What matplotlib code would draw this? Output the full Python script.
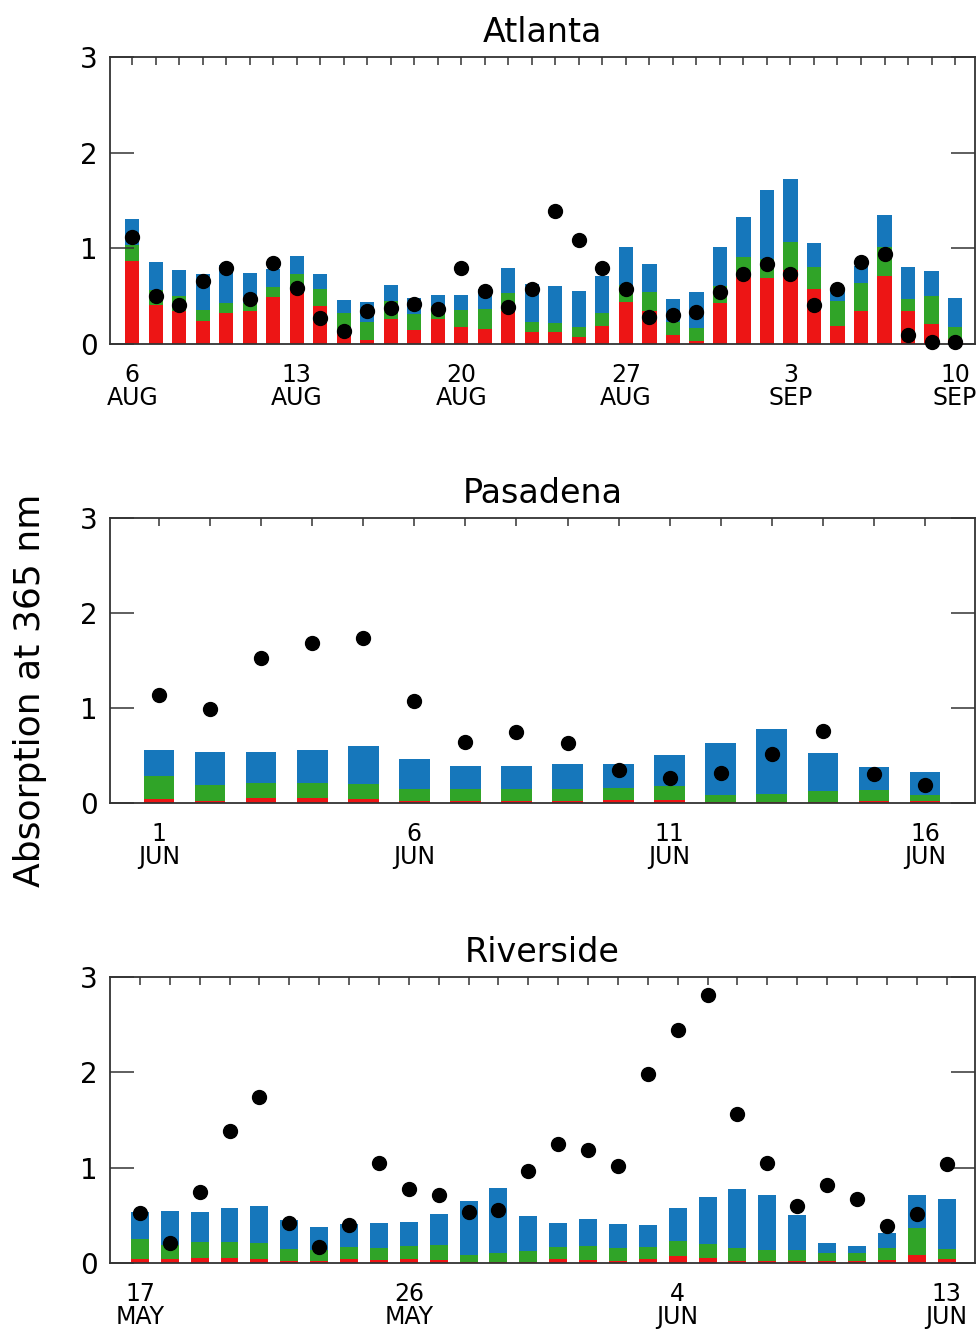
import matplotlib
matplotlib.use("Agg")
import matplotlib.pyplot as plt
import numpy as np

# --- data ---
# Atlanta, 6 Aug .. 10 Sep (36 days)
atl_red = [0.87, 0.41, 0.34, 0.24, 0.32, 0.35, 0.49, 0.56, 0.40, 0.13, 0.04, 0.26,
           0.15, 0.26, 0.18, 0.16, 0.34, 0.13, 0.13, 0.07, 0.19, 0.44, 0.34, 0.09,
           0.03, 0.43, 0.70, 0.69, 0.77, 0.58, 0.19, 0.34, 0.71, 0.34, 0.21, 0.05]
atl_green = [0.16, 0.15, 0.16, 0.12, 0.11, 0.08, 0.11, 0.17, 0.18, 0.19, 0.19, 0.19,
             0.16, 0.14, 0.18, 0.21, 0.19, 0.10, 0.09, 0.11, 0.13, 0.18, 0.20, 0.14,
             0.14, 0.18, 0.21, 0.20, 0.30, 0.22, 0.26, 0.30, 0.30, 0.13, 0.29, 0.13]
atl_blue = [0.28, 0.30, 0.27, 0.37, 0.40, 0.31, 0.18, 0.19, 0.15, 0.14, 0.21, 0.17,
            0.17, 0.11, 0.15, 0.20, 0.26, 0.40, 0.39, 0.37, 0.39, 0.39, 0.30, 0.24,
            0.37, 0.40, 0.42, 0.72, 0.65, 0.26, 0.10, 0.18, 0.34, 0.33, 0.26, 0.30]
atl_dots = [1.12, 0.50, 0.41, 0.66, 0.79, 0.47, 0.85, 0.59, 0.27, 0.14, 0.35, 0.38,
            0.42, 0.37, 0.79, 0.55, 0.39, 0.58, 1.39, 1.09, 0.79, 0.58, 0.28, 0.30,
            0.33, 0.54, 0.73, 0.84, 0.73, 0.41, 0.57, 0.86, 0.94, 0.09, 0.02, 0.02]
atl_ticks = [0, 7, 14, 21, 28, 35]
atl_labels = ["6\nAUG", "13\nAUG", "20\nAUG", "27\nAUG", "3\nSEP", "10\nSEP"]

# Pasadena, 1 Jun .. 16 Jun
pas_red = [0.04, 0.02, 0.05, 0.05, 0.04, 0.02, 0.02, 0.02, 0.02, 0.03, 0.03, 0.01,
           0.01, 0.01, 0.02, 0.02]
pas_green = [0.24, 0.17, 0.16, 0.16, 0.16, 0.13, 0.13, 0.13, 0.13, 0.13, 0.15, 0.07,
             0.08, 0.12, 0.12, 0.06]
pas_blue = [0.28, 0.35, 0.33, 0.35, 0.40, 0.31, 0.24, 0.24, 0.26, 0.25, 0.33, 0.55,
            0.69, 0.40, 0.24, 0.25]
pas_dots = [1.14, 0.99, 1.53, 1.68, 1.74, 1.07, 0.64, 0.75, 0.63, 0.35, 0.26, 0.32,
            0.52, 0.76, 0.31, 0.19]
pas_ticks = [0, 5, 10, 15]
pas_labels = ["1\nJUN", "6\nJUN", "11\nJUN", "16\nJUN"]

# Riverside, 17 May .. 13 Jun
riv_red = [0.04, 0.04, 0.05, 0.05, 0.04, 0.02, 0.02, 0.04, 0.03, 0.04, 0.03, 0.01,
           0.01, 0.01, 0.04, 0.03, 0.02, 0.04, 0.07, 0.05, 0.02, 0.02, 0.02, 0.02,
           0.02, 0.03, 0.08, 0.04]
riv_green = [0.21, 0.15, 0.17, 0.17, 0.17, 0.13, 0.12, 0.13, 0.13, 0.14, 0.16, 0.07,
             0.09, 0.12, 0.13, 0.15, 0.14, 0.13, 0.16, 0.15, 0.14, 0.12, 0.12, 0.09,
             0.09, 0.13, 0.29, 0.11]
riv_blue = [0.28, 0.36, 0.32, 0.36, 0.39, 0.30, 0.24, 0.24, 0.26, 0.25, 0.32, 0.57,
            0.69, 0.36, 0.25, 0.28, 0.25, 0.23, 0.35, 0.49, 0.62, 0.57, 0.36, 0.10,
            0.07, 0.15, 0.34, 0.52]
riv_dots = [0.52, 0.21, 0.74, 1.38, 1.74, 0.42, 0.17, 0.40, 1.05, 0.78, 0.71, 0.54,
            0.56, 0.96, 1.25, 1.19, 1.02, 1.98, 2.44, 2.81, 1.56, 1.05, 0.60, 0.82,
            0.67, 0.39, 0.51, 1.04]
riv_ticks = [0, 9, 18, 27]
riv_labels = ["17\nMAY", "26\nMAY", "4\nJUN", "13\nJUN"]

RED, GREEN, BLUE = "#ed1515", "#30a428", "#1677bb"
W, H = 979, 1333


def panel(rect, title, red, green, blue, dots, ticks, labels, xlim):
    ax = fig.add_axes(rect)
    x = np.arange(len(red))
    red = np.array(red)
    green = np.array(green)
    blue = np.array(blue)
    ax.bar(x, red, width=0.6, color=RED, linewidth=0)
    ax.bar(x, green, width=0.6, bottom=red, color=GREEN, linewidth=0)
    ax.bar(x, blue, width=0.6, bottom=red + green, color=BLUE, linewidth=0)
    ax.plot(x, dots, "o", color="black", ms=10, zorder=5, clip_on=False)

    ax.set_xlim(*xlim)
    ax.set_ylim(0, 3)
    ax.set_yticks([0, 1, 2, 3])
    ax.set_yticklabels(["0", "1", "2", "3"], fontsize=20)
    ax.set_xticks(ticks)
    ax.set_xticklabels(labels, fontsize=17)
    for t in ax.get_xticklabels():
        t.set_linespacing(0.95)
    ax.set_xticks(x, minor=True)
    ax.tick_params(axis="x", which="both", direction="in", top=True, bottom=False,
                   length=6, width=1.1, color="#333333", pad=14)
    ax.tick_params(axis="y", which="major", direction="in", left=True, right=True,
                   length=17, width=1.1, color="#333333", pad=9)
    for s in ax.spines.values():
        s.set_color("#333333")
        s.set_linewidth(1.3)
    ax.set_title(title, fontsize=24, pad=11)
    return ax


def rect(left, top, right, bottom):
    return [left / W, 1 - bottom / H, (right - left) / W, (bottom - top) / H]


fig = plt.figure(figsize=(W / 100, H / 100), dpi=100)

panel(rect(110, 57, 975, 344), "Atlanta", atl_red, atl_green, atl_blue, atl_dots,
      atl_ticks, atl_labels, (-0.95, 35.85))
panel(rect(110, 518, 975, 803), "Pasadena", pas_red, pas_green, pas_blue, pas_dots,
      pas_ticks, pas_labels, (-0.96, 15.98))
panel(rect(110, 977, 975, 1263), "Riverside", riv_red, riv_green, riv_blue, riv_dots,
      riv_ticks, riv_labels, (-1.0, 27.95))

fig.text(30 / W, 1 - 690 / H, "Absorption at 365 nm", rotation=90,
         fontsize=26, ha="center", va="center")

fig.savefig("out.png", dpi=100, facecolor="white")
